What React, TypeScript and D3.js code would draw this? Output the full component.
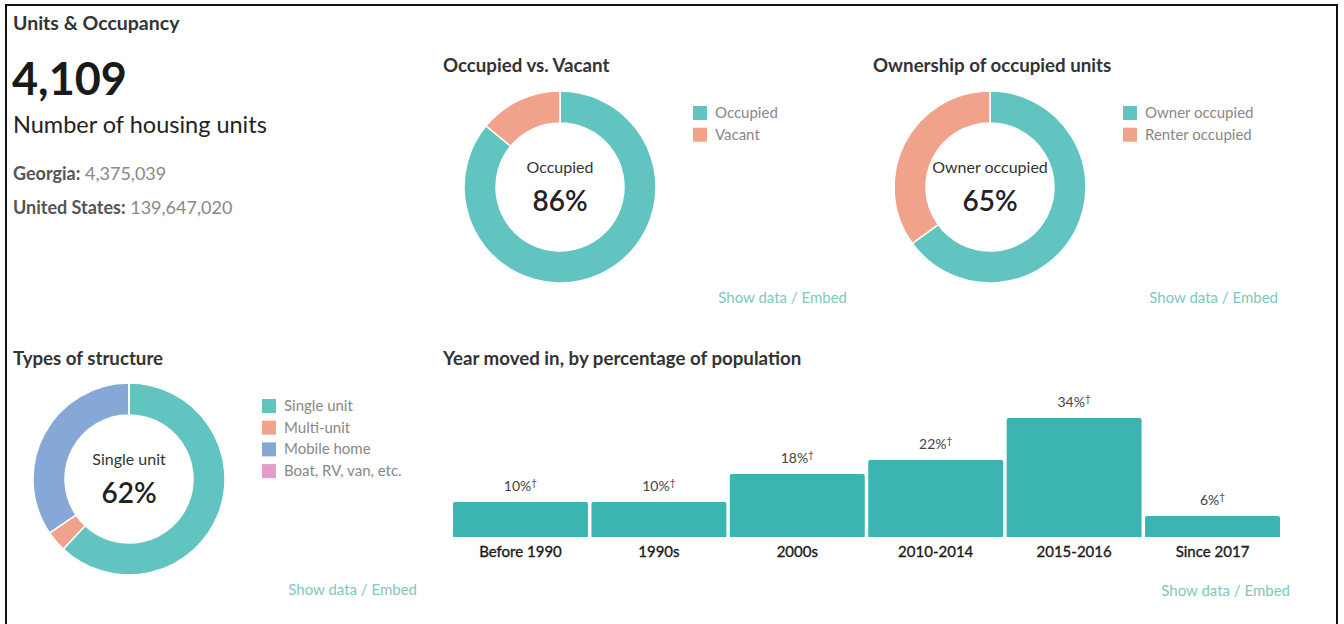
import React from "react";
import * as d3 from "d3";

const occupancyLabels = ["Occupied", "Vacant"];
const occupancyValues = [86, 14];
const ownershipLabels = ["Owner occupied", "Renter occupied"];
const ownershipValues = [65, 35];
const structureLabels = ["Single unit", "Multi-unit", "Mobile home", "Boat, RV, van, etc."];
const structureValues = [62, 3.5, 34.5, 0];
const movedCategories = ["Before 1990", "1990s", "2000s", "2010-2014", "2015-2016", "Since 2017"];
const movedValues = [10, 10, 18, 22, 34, 6];
const movedLabels = ["10%", "10%", "18%", "22%", "34%", "6%"];

const COLORS = ["#62c4c0", "#f0a38a", "#86a8d6", "#e39ccc"];
const FONT = "Lato, 'Noto Sans', sans-serif";
const LINK = "#7ec8bc";

function Donut({ cx, cy, values, labels, centerLabel, centerValue, legendX, legendY }: any) {
  const pie = d3.pie<number>().sort(null).value((d) => d)(values);
  const arc = d3.arc<any>().innerRadius(64).outerRadius(96);
  return (
    <g>
      <g transform={`translate(${cx},${cy})`}>
        {pie.map((p, i) => (
          <path key={i} d={arc(p) || ""} fill={COLORS[i]} stroke="#fff" strokeWidth={1.5} />
        ))}
        <text y={-14} textAnchor="middle" fontSize={16} fill="#333">{centerLabel}</text>
        <text y={24} textAnchor="middle" fontSize={28} fontWeight={600} fill="#222">{centerValue}</text>
      </g>
      {labels.map((l: string, i: number) => (
        <g key={l} transform={`translate(${legendX},${legendY + i * 21.7})`}>
          <rect x={0} y={0} width={14} height={14} fill={COLORS[i]} />
          <text x={22} y={12} fontSize={15} fill="#888">{l}</text>
        </g>
      ))}
    </g>
  );
}

function ShowData({ x, y }: any) {
  return (
    <text x={x} y={y} textAnchor="end" fontSize={15} fill={LINK}>Show data / Embed</text>
  );
}

export default function App() {
  const x = d3.scaleBand().domain(movedCategories).range([453, 1280]).paddingInner(0.025).paddingOuter(0);
  const baseY = 537;
  const y = d3.scaleLinear().domain([0, 34]).range([baseY, 418]);
  const bw = x.bandwidth();
  const r = 2;
  return (
    <svg width={1344} height={624} style={{ position: "absolute", left: 0, top: 0 }} fontFamily={FONT}>
      <rect x={0} y={0} width={1344} height={624} fill="#fff" />
      <path d="M6,624 V5 H1337 V624" fill="none" stroke="#111" strokeWidth={2} />

      <text x={13} y={30} fontSize={19.5} fontWeight={700} fill="#333">Units &amp; Occupancy</text>
      <text x={12} y={95} fontSize={45} fontWeight={700} fill="#1a1a1a">4,109</text>
      <text x={13} y={133} fontSize={23.5} fill="#222">Number of housing units</text>
      <text x={13} y={180} fontSize={18} fill="#888">
        <tspan fontWeight={700} fill="#555">Georgia:</tspan> 4,375,039
      </text>
      <text x={13} y={214} fontSize={18} fill="#888">
        <tspan fontWeight={700} fill="#555">United States:</tspan> 139,647,020
      </text>

      <text x={443} y={72} fontSize={18.7} fontWeight={700} fill="#333">Occupied vs. Vacant</text>
      <Donut cx={560} cy={187} values={occupancyValues} labels={occupancyLabels}
        centerLabel="Occupied" centerValue={`${occupancyValues[0]}%`} legendX={693} legendY={106} />
      <ShowData x={847} y={303} />

      <text x={873} y={72} fontSize={18.7} fontWeight={700} fill="#333">Ownership of occupied units</text>
      <Donut cx={990} cy={187} values={ownershipValues} labels={ownershipLabels}
        centerLabel="Owner occupied" centerValue={`${ownershipValues[0]}%`} legendX={1123} legendY={106} />
      <ShowData x={1278} y={303} />

      <text x={13} y={365} fontSize={18.7} fontWeight={700} fill="#333">Types of structure</text>
      <Donut cx={129} cy={479} values={structureValues} labels={structureLabels}
        centerLabel="Single unit" centerValue={`${structureValues[0]}%`} legendX={262} legendY={399} />
      <ShowData x={417} y={595} />

      <text x={443} y={365} fontSize={18.7} fontWeight={700} fill="#333">Year moved in, by percentage of population</text>
      {movedCategories.map((c, i) => {
        const x0 = x(c)!;
        const top = y(movedValues[i]);
        const d = `M${x0},${baseY} V${top + r} Q${x0},${top} ${x0 + r},${top} H${x0 + bw - r} Q${x0 + bw},${top} ${x0 + bw},${top + r} V${baseY} Z`;
        return (
          <g key={c}>
            <path d={d} fill="#3cb4b2" />
            <text x={x0 + bw / 2} y={top - 11} textAnchor="middle" fontSize={14} fill="#444">
              {movedLabels[i]}<tspan fontSize={10} dy={-5}>†</tspan>
            </text>
            <text x={x0 + bw / 2} y={557} textAnchor="middle" fontSize={15} fill="#1a1a1a" stroke="#1a1a1a" strokeWidth={0.35}>{c}</text>
          </g>
        );
      })}
      <ShowData x={1290} y={596} />
    </svg>
  );
}
